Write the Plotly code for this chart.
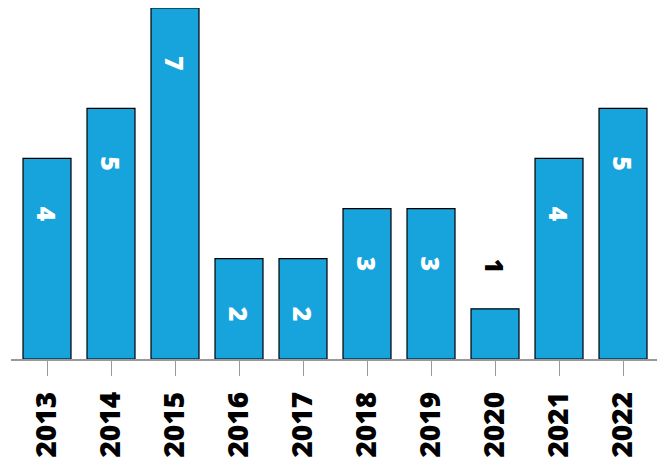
import plotly.graph_objects as go

### 데이터
years = ['2013', '2014', '2015', '2016', '2017', '2018', '2019', '2020', '2021', '2022']
counts = [4, 5, 7, 2, 2, 3, 3, 1, 4, 5]

bar_color = '#17a3dc'
font_family = 'Open Sans, Noto Sans, sans-serif'

fig = go.Figure()
fig.add_trace(go.Bar(x = years,
                     y = counts,
                     marker = dict(color = bar_color, line = dict(color = 'black', width = 1.2)),
                     width = 0.75,
                     hoverinfo = 'skip'))

# 막대 값 라벨 (작은 값은 막대 위 바깥쪽에 표시)
# 카테고리 축에서 '2013' 같은 문자열은 숫자로 해석되므로 인덱스 사용
for i, v in enumerate(counts):
    inside = v > 1
    fig.add_annotation(x = i, y = v, xref = 'x', yref = 'y',
                       text = str(v), showarrow = False,
                       textangle = 90,
                       yshift = -55 if inside else 43,
                       font = dict(family = font_family, size = 25, weight = 800,
                                   color = 'white' if inside else 'black'))

# 페이지 body 여백(8px)을 감안한 크기
fig.update_layout(width = 657, height = 456,
                  margin = dict(l = 3, r = 5, t = 0, b = 105, autoexpand = False),
                  plot_bgcolor = 'white', paper_bgcolor = 'white',
                  showlegend = False,
                  font = dict(family = font_family))
fig.update_xaxes(type = 'category',
                 range = [-0.5625, 9.578],
                 showline = True, linecolor = '#999999', linewidth = 1.5,
                 ticks = 'outside', ticklen = 15, tickcolor = '#999999', tickwidth = 1.2,
                 tickangle = -90,
                 ticklabelstandoff = 5,
                 tickfont = dict(family = font_family, size = 28, color = 'black', weight = 800),
                 showgrid = False)
fig.update_yaxes(range = [0, 7], visible = False, showgrid = False)

fig.write_html('out.html')
